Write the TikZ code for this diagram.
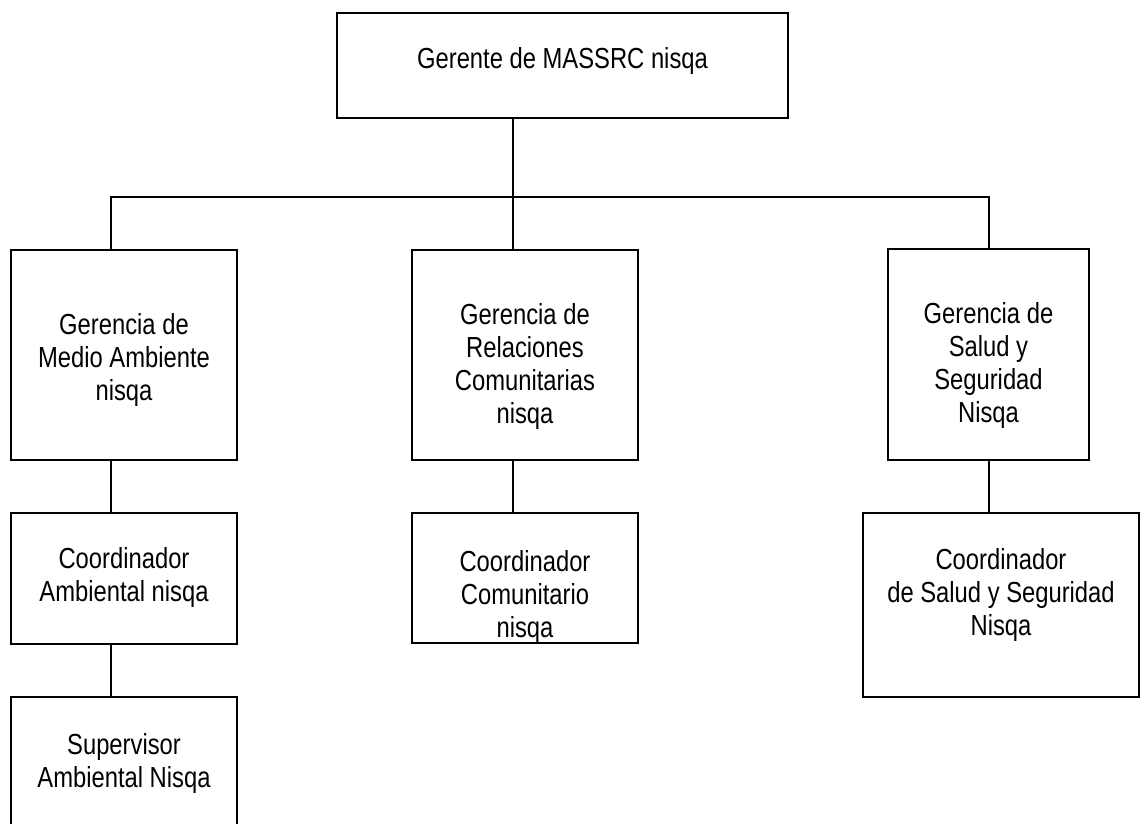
\documentclass[tikz,border=0pt]{standalone}
\usepackage{fontspec}
\setmainfont{Liberation Sans}[FakeStretch=0.82]
\begin{document}
\begin{tikzpicture}[x=1pt,y=-1pt,
  box/.style={draw=black,line width=1.6pt,rectangle,inner sep=0pt},
  txt/.style={anchor=north,inner sep=0pt,align=center,font=\fontsize{29}{33}\selectfont},
  link/.style={draw=black,line width=1.6pt}]
\useasboundingbox (0,0) rectangle (1144,823);
\clip (0,0) rectangle (1144,823);
\fill[white] (0,0) rectangle (1144,823);
% boxes
\node[box,minimum width=451pt,minimum height=105pt] (top) at (562.5,65.5) {};
\node[box,minimum width=226pt,minimum height=210pt] (L1) at (124,355) {};
\node[box,minimum width=226pt,minimum height=210pt] (M1) at (525,355) {};
\node[box,minimum width=201pt,minimum height=211pt] (R1) at (988.5,354.5) {};
\node[box,minimum width=226pt,minimum height=131pt] (L2) at (124,578.5) {};
\node[box,minimum width=226pt,minimum height=130pt] (M2) at (525,578) {};
\node[box,minimum width=276pt,minimum height=184pt] (R2) at (1001,605) {};
\node[box,minimum width=226pt,minimum height=153pt] (L3) at (124,773.5) {};
% connector x positions
\coordinate (xl) at (111,0);
\coordinate (xm) at (513,0);
\coordinate (xr) at (989,0);
\coordinate (bus) at (0,197);
% connectors
\draw[link] (top.south -| xm) -- (bus -| xm);
\draw[link] (L1.north -| xl) -- (bus -| xl) -- (bus -| xr) -- (R1.north -| xr);
\draw[link] (bus -| xm) -- (M1.north -| xm);
\draw[link] (L1.south -| xl) -- (L2.north -| xl);
\draw[link] (M1.south -| xm) -- (M2.north -| xm);
\draw[link] (R1.south -| xr) -- (R2.north -| xr);
\draw[link] (L2.south -| xl) -- (L3.north -| xl);
% texts
\node[txt] (ttop) at (562.5,47) {Gerente de MASSRC nisqa};
\node[txt] (tL1) at (124,313) {Gerencia de\\Medio Ambiente\\nisqa};
\node[txt] (tM1) at (525,303) {Gerencia de\\Relaciones\\Comunitarias\\nisqa};
\node[txt] (tR1) at (988.5,302) {Gerencia de\\Salud y\\Seguridad\\Nisqa};
\node[txt] (tL2) at (124,547) {Coordinador\\Ambiental nisqa};
\begin{scope}
\clip (M2.south west) rectangle ([yshift=-1pt]M2.north east);
\node[txt] (tM2) at (525,550) {Coordinador\\Comunitario\\nisqa};
\end{scope}
\node[txt] (tR2) at (1001,548) {Coordinador\\de Salud y Seguridad\\Nisqa};
\node[txt] (tL3) at (124,733) {Supervisor\\Ambiental Nisqa};
\end{tikzpicture}
\end{document}
